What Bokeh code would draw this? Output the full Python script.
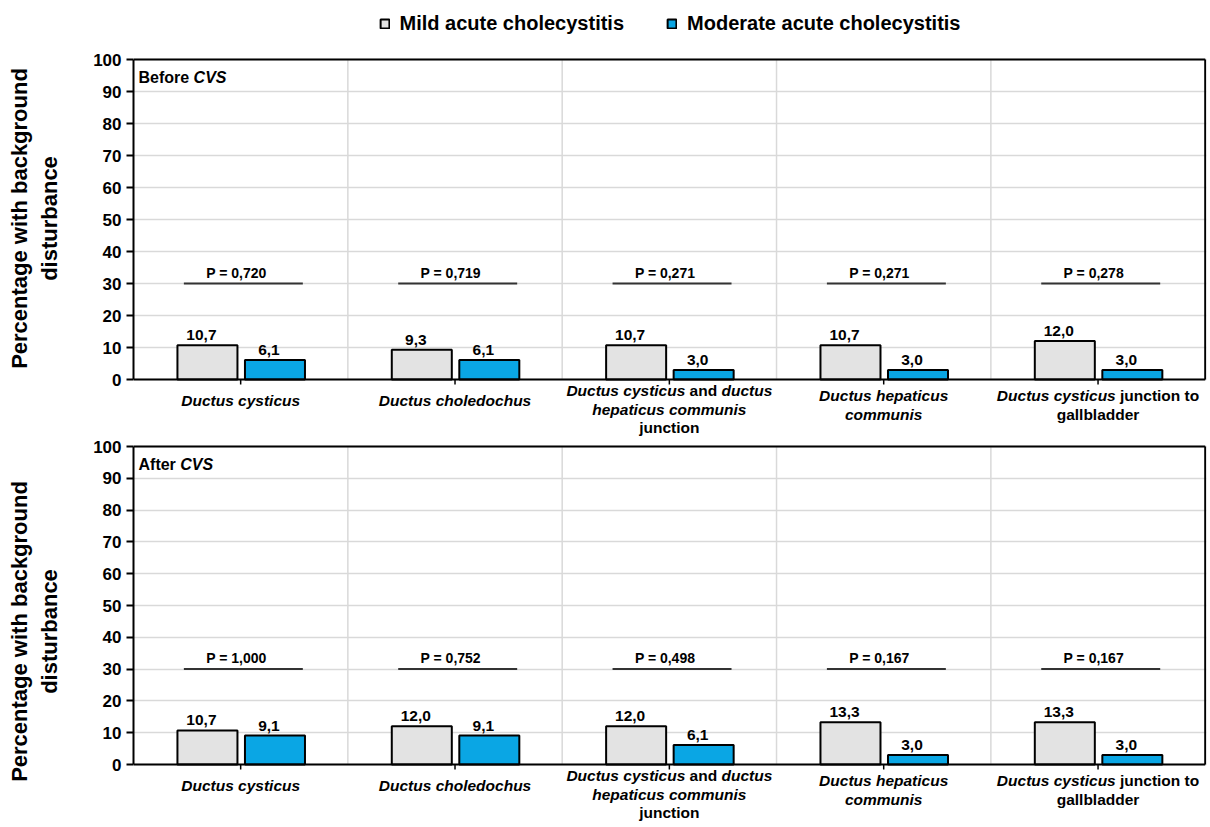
from bokeh.plotting import figure
from bokeh.models import Range1d, FixedTicker, Legend, LegendItem, ColumnDataSource
from bokeh.layouts import column
from bokeh.embed import file_html
from bokeh.resources import INLINE
from bokeh.core.properties import value

# ---------------- data ----------------
categories = ["Ductus cysticus", "Ductus choledochus",
              "Ductus cysticus and ductus hepaticus communis junction",
              "Ductus hepaticus communis", "Ductus cysticus junction to gallbladder"]
# label lines: list of (text, italic) segments, separated by spaces
category_lines = [
    [[("Ductus cysticus", True)]],
    [[("Ductus choledochus", True)]],
    [[("Ductus cysticus", True), ("and", False), ("ductus", True)],
     [("hepaticus communis", True)],
     [("junction", False)]],
    [[("Ductus hepaticus", True)], [("communis", True)]],
    [[("Ductus cysticus", True), ("junction to", False)], [("gallbladder", False)]],
]
series_names = ["Mild acute cholecystitis", "Moderate acute cholecystitis"]
before_mild = [10.7, 9.3, 10.7, 10.7, 12.0]
before_moderate = [6.1, 6.1, 3.0, 3.0, 3.0]
after_mild = [10.7, 12.0, 12.0, 13.3, 13.3]
after_moderate = [9.1, 9.1, 6.1, 3.0, 3.0]
before_p = ["P = 0,720", "P = 0,719", "P = 0,271", "P = 0,271", "P = 0,278"]
after_p = ["P = 1,000", "P = 0,752", "P = 0,498", "P = 0,167", "P = 0,167"]
p_level = 30
panel_titles = [[("Before", False), ("CVS", True)], [("After", False), ("CVS", True)]]
y_ticks = list(range(0, 101, 10))
y_title = "Percentage with background\ndisturbance"

MILD_COLOR = "#e3e3e3"
MOD_COLOR = "#0aa6e4"
GRID = "#d9d9d9"
FONT = "Liberation Sans"

# Arial/Liberation Sans Bold advance widths (per 1000 em)
ADV = {' ': 278, ',': 278, '.': 278, '=': 584,
       'A': 722, 'B': 722, 'C': 722, 'D': 722, 'E': 667, 'F': 611, 'P': 667, 'S': 667, 'V': 667,
       'a': 556, 'b': 611, 'c': 556, 'd': 611, 'e': 556, 'f': 333, 'g': 611, 'h': 611, 'i': 278,
       'j': 278, 'k': 556, 'l': 278, 'm': 889, 'n': 611, 'o': 611, 'p': 611, 'r': 389, 's': 556,
       't': 333, 'u': 611, 'v': 556, 'y': 556}


def tw(s, size):
    return sum(ADV.get(ch, 556) for ch in s) * size / 1000.0


def fmt(v):
    return f"{v:.1f}".replace(".", ",")


W = 1210


def make_panel(mild, moderate, pvals, title_segs, top_px, bar_px, bottom_px, legend=False):
    n = len(categories)
    y_top = y_ticks[-1]
    px = bar_px / y_top  # pixels per percentage point
    p = figure(width=W, height=top_px + bar_px + bottom_px,
               x_range=Range1d(0, n + 0.006),
               y_range=Range1d(-bottom_px / px, y_top + top_px / px),
               output_backend="svg", toolbar_location=None,
               min_border_left=133, min_border_right=4, min_border_top=0, min_border_bottom=0)
    p.outline_line_color = None
    p.background_fill_color = "white"

    centers = [i + 0.5 for i in range(n)]
    src = ColumnDataSource(dict(
        xm=[c - 0.155 for c in centers], xd=[c + 0.16 for c in centers],
        mild=mild, mod=moderate,
        mild_lbl=[fmt(v) for v in mild], mod_lbl=[fmt(v) for v in moderate],
        x0=[c - 0.265 for c in centers], x1=[c + 0.29 for c in centers],
        xp=[c - 0.02 for c in centers], py=[p_level] * n, pl=pvals,
        xc=centers, zero=[0] * n, tick=[-5 / px] * n))

    # grid: horizontal lines + vertical separators between categories
    p.xgrid.visible = False
    p.ygrid.ticker = FixedTicker(ticks=y_ticks)
    p.ygrid.grid_line_color = GRID
    p.ygrid.grid_line_width = 1.5
    seps = list(range(1, n))
    p.segment(x0=seps, x1=seps, y0=[0] * len(seps), y1=[y_top] * len(seps),
              line_color=GRID, line_width=1.5)

    r1 = p.vbar(x="xm", top="mild", bottom=0, width=0.28, source=src,
                fill_color=MILD_COLOR, line_color="black", line_width=2)
    r2 = p.vbar(x="xd", top="mod", bottom=0, width=0.28, source=src,
                fill_color=MOD_COLOR, line_color="black", line_width=2)

    # frame lines: x axis at 0, top at 100, right side
    p.segment(x0=[0, 0, n], x1=[n, n, n], y0=[0, y_top, 0], y1=[0, y_top, y_top],
              line_color="black", line_width=2)
    # category ticks
    p.segment(x0="xc", x1="xc", y0="zero", y1="tick", source=src, line_color="black", line_width=1.5)

    for xcol, ycol, lcol in (("xm", "mild", "mild_lbl"), ("xd", "mod", "mod_lbl")):
        p.text(x=xcol, y=ycol, text=lcol, source=src, text_align="center",
               text_baseline="bottom", x_offset=-6, y_offset=-5,
               text_font=value(FONT), text_font_style="bold", text_font_size="15.5px",
               text_color="black")
    p.segment(x0="x0", x1="x1", y0="py", y1="py", source=src, line_color="#333333", line_width=2)
    p.text(x="xp", y="py", text="pl", source=src, text_align="center",
           text_baseline="bottom", y_offset=-3,
           text_font=value(FONT), text_font_style="bold", text_font_size="14px",
           text_color="black")

    # y axis
    p.yaxis.ticker = FixedTicker(ticks=y_ticks)
    p.yaxis.bounds = (0, y_top)
    p.yaxis.major_label_text_font = FONT
    p.yaxis.major_label_text_font_style = "bold"
    p.yaxis.major_label_text_font_size = "17px"
    p.yaxis.major_label_text_color = "black"
    p.yaxis.major_label_standoff = 5
    p.yaxis.axis_line_width = 2
    p.yaxis.axis_line_color = "black"
    p.yaxis.major_tick_line_width = 2
    p.yaxis.major_tick_line_color = "black"
    p.yaxis.major_tick_out = 7
    p.yaxis.major_tick_in = 0
    p.yaxis.minor_tick_out = 0
    p.yaxis.minor_tick_in = 0
    p.yaxis.axis_label = y_title
    p.yaxis.axis_label_text_font = FONT
    p.yaxis.axis_label_text_font_style = "bold"
    p.yaxis.axis_label_text_font_size = "22px"
    p.yaxis.axis_label_text_color = "black"
    p.yaxis.axis_label_standoff = 28
    p.xaxis.visible = False

    # category labels (mixed italic / upright), as text glyphs below the x axis
    cat_size = 15.5
    sp = tw(" ", cat_size)
    lx, lxo, lyo, lt, ls = [], [], [], [], []
    for i, lines in enumerate(category_lines):
        nl = len(lines)
        first_top = 12.5 - (nl - 1) * 5
        for j, segs in enumerate(lines):
            total = sum(tw(s, cat_size) for s, _ in segs) + sp * (len(segs) - 1)
            cur = -total / 2
            for s, it in segs:
                lx.append(centers[i]); lxo.append(cur); lyo.append(first_top + j * 18.5)
                lt.append(s); ls.append("bold italic" if it else "bold")
                cur += tw(s, cat_size) + sp
    lsrc = ColumnDataSource(dict(x=lx, y=[0] * len(lx), xo=lxo, yo=lyo, t=lt, st=ls))
    p.text(x="x", y="y", x_offset="xo", y_offset="yo", text="t", text_font_style="st",
           source=lsrc, text_align="left", text_baseline="top", text_font=value(FONT),
           text_font_size=f"{cat_size}px", text_color="black")

    # panel title (Before / After CVS)
    t_size = 16
    cur = 5
    tx, txo, tt, ts = [], [], [], []
    for s, it in title_segs:
        tx.append(0); txo.append(cur); tt.append(s); ts.append("bold italic" if it else "bold")
        cur += tw(s, t_size) + tw(" ", t_size)
    tsrc = ColumnDataSource(dict(x=tx, y=[y_top] * len(tx), xo=txo, t=tt, st=ts))
    p.text(x="x", y="y", x_offset="xo", y_offset=9, text="t", text_font_style="st",
           source=tsrc, text_align="left", text_baseline="top", text_font=value(FONT),
           text_font_size=f"{t_size}px", text_color="black")

    if legend:
        lg = Legend(items=[LegendItem(label=series_names[0], renderers=[r1]),
                           LegendItem(label=series_names[1], renderers=[r2])],
                    orientation="horizontal", location="top_center",
                    label_text_font=FONT, label_text_font_style="bold",
                    label_text_font_size="20px", label_text_color="black",
                    label_height=24,
                    glyph_width=11, glyph_height=11, spacing=42, label_standoff=10,
                    border_line_color=None, background_fill_alpha=0, padding=0, margin=11)
        p.add_layout(lg, "center")
    return p


p1 = make_panel(before_mild, before_moderate, before_p, panel_titles[0], 59, 320, 57, legend=True)
p2 = make_panel(after_mild, after_moderate, after_p, panel_titles[1], 10, 318, 62)

layout = column(p1, p2, spacing=0)
open("out.html", "w").write(file_html(layout, INLINE))
